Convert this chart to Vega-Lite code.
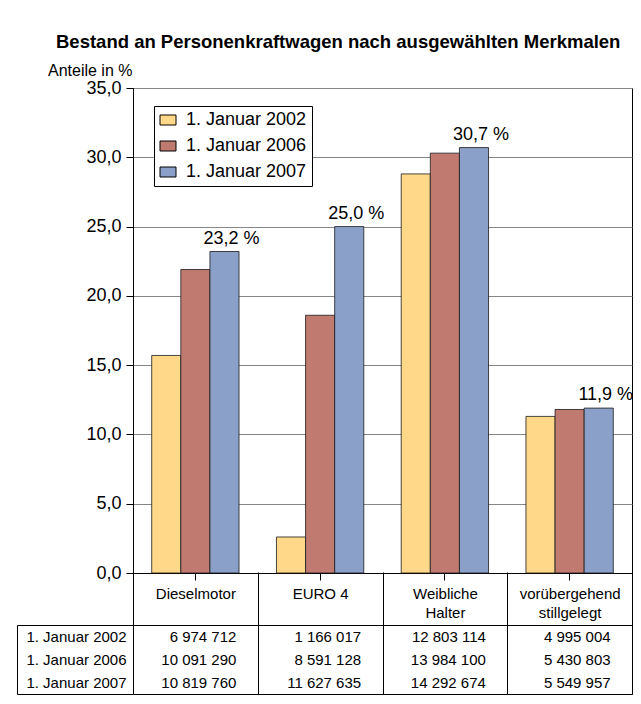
{
  "$schema": "https://vega.github.io/schema/vega-lite/v6.json",
  "background": "white",
  "padding": {"left": 16, "top": 33, "right": 5, "bottom": 5},
  "config": {
    "font": "Liberation Sans",
    "locale": {"number": {"decimal": ",", "thousands": " ", "grouping": [3], "currency": ["", ""]}},
    "view": {"stroke": "black", "strokeWidth": 1},
    "axis": {"labelColor": "black", "tickColor": "black", "domainColor": "black", "labelFont": "Liberation Sans", "titleFont": "Liberation Sans"}
  },
  "title": {
    "text": "Bestand an Personenkraftwagen nach ausgewählten Merkmalen",
    "font": "Liberation Sans",
    "fontSize": 18.5,
    "fontWeight": "bold",
    "color": "black",
    "dx": 40,
    "offset": 10
  },
  "datasets": {
    "pkw": [
      {"Merkmal": "Dieselmotor", "Datum": "1. Januar 2002", "Anteil": 15.7, "Anzahl": 6974712},
      {"Merkmal": "Dieselmotor", "Datum": "1. Januar 2006", "Anteil": 21.9, "Anzahl": 10091290},
      {"Merkmal": "Dieselmotor", "Datum": "1. Januar 2007", "Anteil": 23.2, "Anzahl": 10819760},
      {"Merkmal": "EURO 4", "Datum": "1. Januar 2002", "Anteil": 2.6, "Anzahl": 1166017},
      {"Merkmal": "EURO 4", "Datum": "1. Januar 2006", "Anteil": 18.6, "Anzahl": 8591128},
      {"Merkmal": "EURO 4", "Datum": "1. Januar 2007", "Anteil": 25.0, "Anzahl": 11627635},
      {"Merkmal": "Weibliche Halter", "Datum": "1. Januar 2002", "Anteil": 28.8, "Anzahl": 12803114},
      {"Merkmal": "Weibliche Halter", "Datum": "1. Januar 2006", "Anteil": 30.3, "Anzahl": 13984100},
      {"Merkmal": "Weibliche Halter", "Datum": "1. Januar 2007", "Anteil": 30.7, "Anzahl": 14292674},
      {"Merkmal": "vorübergehend stillgelegt", "Datum": "1. Januar 2002", "Anteil": 11.3, "Anzahl": 4995004},
      {"Merkmal": "vorübergehend stillgelegt", "Datum": "1. Januar 2006", "Anteil": 11.8, "Anzahl": 5430803},
      {"Merkmal": "vorübergehend stillgelegt", "Datum": "1. Januar 2007", "Anteil": 11.9, "Anzahl": 5549957}
    ]
  },
  "bounds": "flush",
  "spacing": 52,
  "resolve": {"scale": {"x": "independent"}, "legend": {"color": "independent"}},
  "vconcat": [
    {
      "width": 499,
      "height": 485,
      "data": {"name": "pkw"},
      "layer": [
        {
          "mark": {"type": "bar", "stroke": "#1a1a1a", "strokeWidth": 0.8},
          "encoding": {
            "x": {
              "field": "Merkmal", "type": "nominal", "sort": null,
              "scale": {"paddingInner": 0.3, "paddingOuter": 0.15},
              "axis": {"title": null, "labels": false, "tickSize": 7, "domainColor": "black", "tickColor": "black"}
            },
            "xOffset": {"field": "Datum", "type": "nominal", "sort": null, "scale": {"paddingInner": 0, "paddingOuter": 0}},
            "y": {
              "field": "Anteil", "type": "quantitative",
              "scale": {"domain": [0, 35], "nice": false},
              "axis": {
                "values": [0, 5, 10, 15, 20, 25, 30, 35],
                "format": ".1f",
                "labelFontSize": 18,
                "labelPadding": 5,
                "tickSize": 7,
                "grid": true,
                "gridColor": "#868686",
                "title": "Anteile in %",
                "titleAngle": 0,
                "titleAlign": "right",
                "titleBaseline": "alphabetic",
                "titleX": -1,
                "titleY": -13,
                "titleFontSize": 16,
                "titleFontWeight": "normal",
                "titleColor": "black"
              }
            },
            "color": {
              "field": "Datum", "type": "nominal", "sort": null,
              "scale": {"range": ["#FFD88A", "#C07A70", "#8BA0C8"]},
              "legend": {
                "title": null,
                "orient": "none",
                "legendX": 21,
                "legendY": 18,
                "direction": "vertical",
                "fillColor": "white",
                "strokeColor": "black",
                "padding": 5,
                "labelFontSize": 18,
                "labelColor": "black",
                "labelOffset": 9,
                "rowPadding": 8,
                "symbolType": "M-1,-0.625H1V0.625H-1Z",
                "symbolSize": 256,
                "symbolStrokeColor": "black",
                "symbolStrokeWidth": 1,
                "symbolOpacity": 1
              }
            }
          }
        },
        {
          "transform": [
            {"filter": "datum.Datum == '1. Januar 2007'"},
            {"calculate": "replace(format(datum.Anteil, '.1f'), '.', ',') + ' %'", "as": "Beschriftung"}
          ],
          "mark": {"type": "text", "fontSize": 18, "dx": 7, "dy": -8, "baseline": "alphabetic", "color": "black"},
          "encoding": {
            "x": {"field": "Merkmal", "type": "nominal", "sort": null},
            "xOffset": {"field": "Datum", "type": "nominal", "sort": null},
            "y": {"field": "Anteil", "type": "quantitative"},
            "text": {"field": "Beschriftung", "type": "nominal"}
          }
        }
      ]
    },
    {
      "width": 499,
      "height": 69,
      "data": {"name": "pkw"},
      "layer": [
        {
          "mark": {"type": "text", "align": "right", "dx": 41, "fontSize": 15, "color": "black", "baseline": "middle"},
          "encoding": {
            "x": {
              "field": "Merkmal", "type": "nominal", "sort": null,
              "scale": {"paddingInner": 0, "paddingOuter": 0},
              "axis": {
                "orient": "top",
                "title": null,
                "tickBand": "extent",
                "tickSize": 53,
                "tickColor": "black",
                "grid": true,
                "gridColor": "black",
                "gridOpacity": 1,
                "domain": false,
                "labelFontSize": 15,
                "labelColor": "black",
                "labelAngle": 0,
                "labelBaseline": "top",
                "labelPadding": -14,
                "labelLineHeight": 19,
                "labelExpr": "datum.label == 'Weibliche Halter' || datum.label == 'vorübergehend stillgelegt' ? split(datum.label, ' ') : datum.label"
              }
            },
            "y": {
              "field": "Datum", "type": "nominal", "sort": null,
              "scale": {"paddingInner": 0, "paddingOuter": 0.17},
              "axis": {"title": null, "ticks": false, "domain": false, "labelFontSize": 15, "labelPadding": 7, "labelColor": "black"}
            },
            "text": {"field": "Anzahl", "type": "quantitative", "format": ","}
          }
        },
        {
          "mark": {"type": "point", "opacity": 0},
          "encoding": {
            "x": {"field": "Merkmal", "type": "nominal", "sort": null},
            "y": {
              "field": "Anzahl", "type": "quantitative",
              "scale": {"domain": [0, 1], "clamp": true, "nice": false, "zero": false},
              "axis": {"orient": "left", "offset": 116, "values": [0, 1], "labels": false, "tickSize": -116, "tickColor": "black", "domainColor": "black", "title": null, "grid": false}
            }
          }
        }
      ],
      "resolve": {"scale": {"y": "independent"}}
    }
  ]
}
